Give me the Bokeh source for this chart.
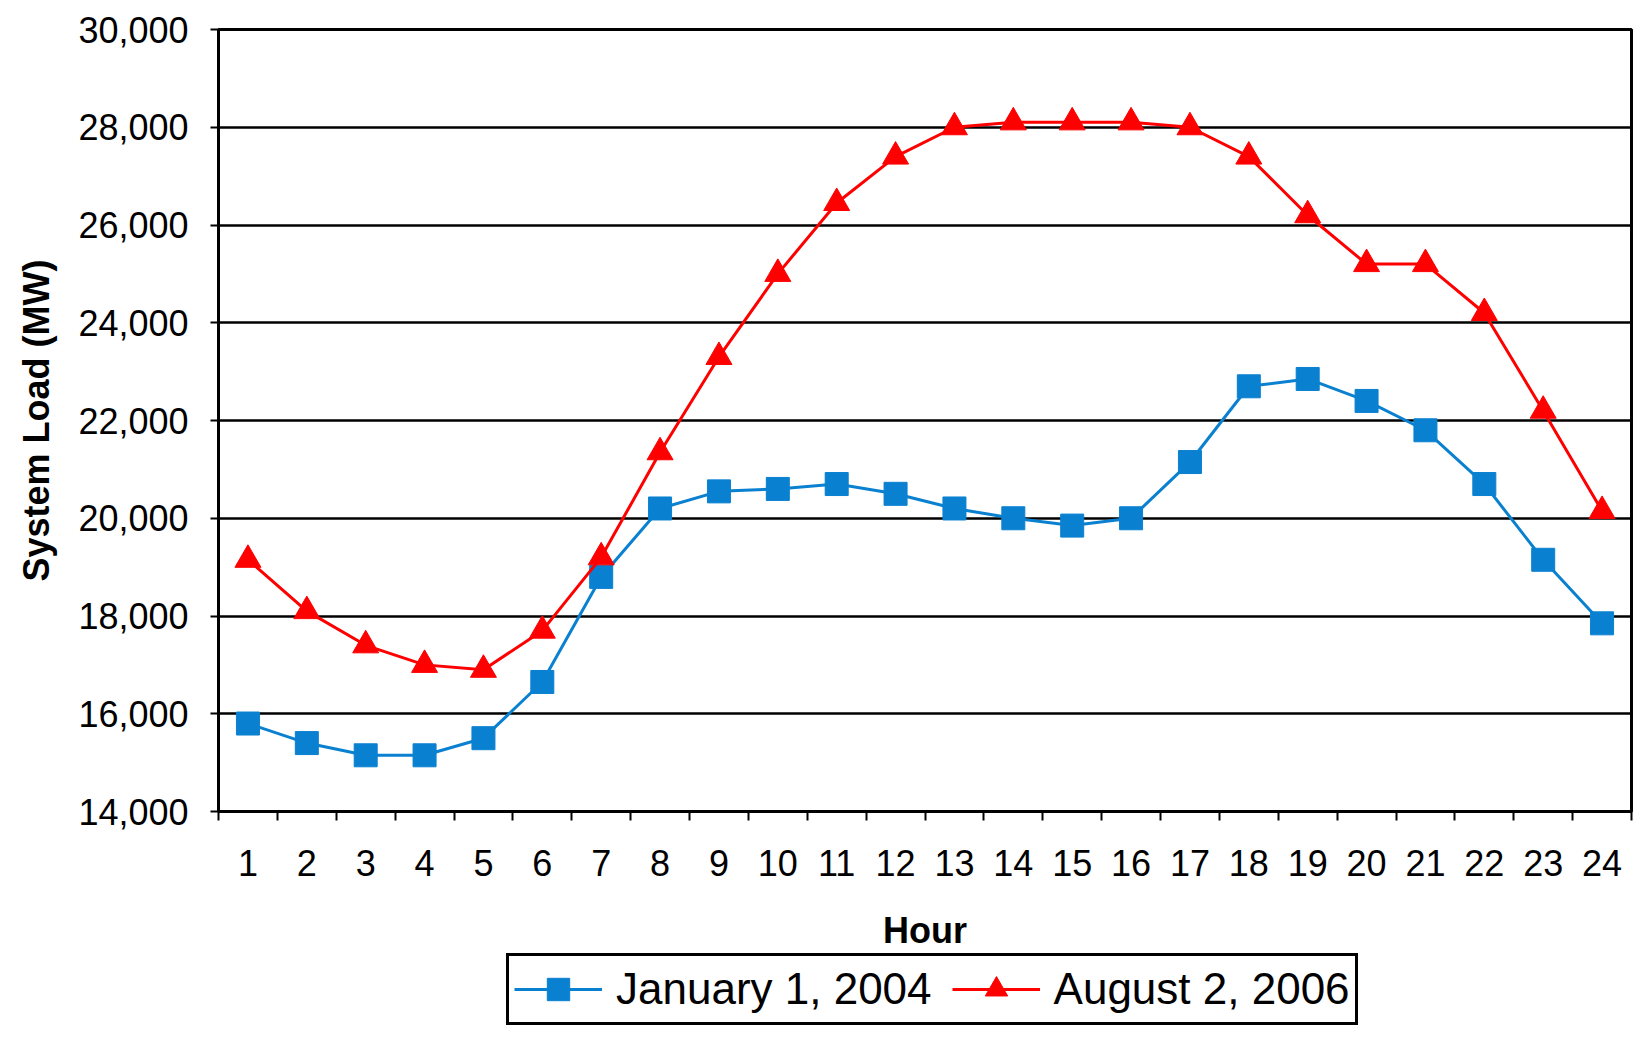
from bokeh.plotting import figure
from bokeh.layouts import column
from bokeh.models import FixedTicker, NumeralTickFormatter, Legend, LegendItem, Range1d
from bokeh.embed import file_html
from bokeh.resources import INLINE

hours = list(range(1, 25))
hour_labels = [str(h) for h in hours]
jan_2004 = [15800, 15400, 15150, 15150, 15500, 16650, 18800, 20200, 20550, 20600,
            20700, 20500, 20200, 20000, 19850, 20000, 21150, 22700, 22850, 22400,
            21800, 20700, 19150, 17850]
aug_2006 = [19150, 18100, 17400, 17000, 16900, 17700, 19200, 21350, 23300, 25000,
            26450, 27400, 28000, 28100, 28100, 28100, 28000, 27400, 26200, 25200,
            25200, 24200, 22200, 20150]
y_ticks = list(range(14000, 30001, 2000))
series_names = ["January 1, 2004", "August 2, 2006"]

BLUE = "#0a80d0"
RED = "#ff0000"
FONT = "Liberation Sans"

p = figure(width=1634, height=953,
           x_range=Range1d(0.5, 24.5), y_range=Range1d(14000, 30000),
           output_backend="svg", toolbar_location=None,
           min_border_left=218, min_border_right=3, min_border_top=29,
           min_border_bottom=142)

p.background_fill_color = "white"
p.border_fill_color = "white"
p.outline_line_color = "black"
p.outline_line_width = 3

# grid
p.xgrid.visible = False
p.ygrid.grid_line_color = "black"
p.ygrid.grid_line_width = 2.5
p.ygrid.grid_line_alpha = 1.0

# y axis
p.yaxis.ticker = FixedTicker(ticks=y_ticks)
p.yaxis.formatter = NumeralTickFormatter(format="0,0")
p.yaxis.axis_label = "System Load (MW)"
p.yaxis.axis_label_text_font = FONT
p.yaxis.axis_label_text_font_style = "bold"
p.yaxis.axis_label_text_font_size = "36px"
p.yaxis.axis_label_text_color = "black"
p.yaxis.axis_label_standoff = 18
p.yaxis.major_label_text_font = FONT
p.yaxis.major_label_text_font_size = "36px"
p.yaxis.major_label_text_color = "black"
p.yaxis.major_label_standoff = 22
p.yaxis.major_tick_out = 8
p.yaxis.major_tick_in = 0
p.yaxis.major_tick_line_width = 2
p.yaxis.major_tick_line_color = "black"
p.yaxis.minor_tick_line_color = None
p.yaxis.axis_line_color = "black"
p.yaxis.axis_line_width = 3

# x axis
p.xaxis.ticker = FixedTicker(ticks=hours, minor_ticks=[h - 0.5 for h in hours] + [24.5])
p.xaxis.major_label_overrides = {h: lbl for h, lbl in zip(hours, hour_labels)}
p.xaxis.axis_label = "Hour"
p.xaxis.axis_label_text_font = FONT
p.xaxis.axis_label_text_font_style = "bold"
p.xaxis.axis_label_text_font_size = "36px"
p.xaxis.axis_label_text_color = "black"
p.xaxis.axis_label_standoff = 31
p.xaxis.major_label_text_font = FONT
p.xaxis.major_label_text_font_size = "36px"
p.xaxis.major_label_text_color = "black"
p.xaxis.major_label_standoff = 29
p.xaxis.major_tick_line_color = None
p.xaxis.major_tick_out = 0
p.xaxis.major_tick_in = 0
p.xaxis.minor_tick_out = 9
p.xaxis.minor_tick_in = 0
p.xaxis.minor_tick_line_width = 2
p.xaxis.minor_tick_line_color = "black"
p.xaxis.axis_line_color = "black"
p.xaxis.axis_line_width = 3

# series
p.line(hours, jan_2004, line_color=BLUE, line_width=3)
p.scatter(hours, jan_2004, marker="square", size=23, fill_color=BLUE, line_color=BLUE)
p.line(hours, aug_2006, line_color=RED, line_width=3)
p.scatter(hours, aug_2006, marker="triangle", size=26, fill_color=RED, line_color=RED)

# legend strip below the chart (its own renderers lie outside its ranges)
lg = figure(width=1634, height=74, x_range=Range1d(-10, -9), y_range=Range1d(-10, -9),
            output_backend="svg", toolbar_location=None,
            x_axis_location=None, y_axis_location=None, min_border=0)
lg.grid.visible = False
lg.outline_line_color = None
lg.background_fill_color = "white"
lg.border_fill_color = "white"
g1 = lg.line(hours, jan_2004, line_color=BLUE, line_width=3)
s1 = lg.scatter(hours, jan_2004, marker="square", size=23, fill_color=BLUE, line_color=BLUE)
g2 = lg.line(hours, aug_2006, line_color=RED, line_width=3)
s2 = lg.scatter(hours, aug_2006, marker="triangle", size=26, fill_color=RED, line_color=RED)

legend = Legend(items=[LegendItem(label=series_names[0], renderers=[g1, s1]),
                       LegendItem(label=series_names[1], renderers=[g2, s2])],
                orientation="horizontal", location=(288, 2),
                label_text_font=FONT, label_text_font_size="44px",
                label_text_color="black",
                glyph_width=88, glyph_height=56, label_standoff=14, spacing=20,
                padding=5, margin=0,
                border_line_color="black", border_line_width=3, border_line_alpha=1.0,
                background_fill_color="white")
lg.add_layout(legend, "center")

layout = column(p, lg, spacing=0)
open("out.html", "w").write(file_html(layout, INLINE))
